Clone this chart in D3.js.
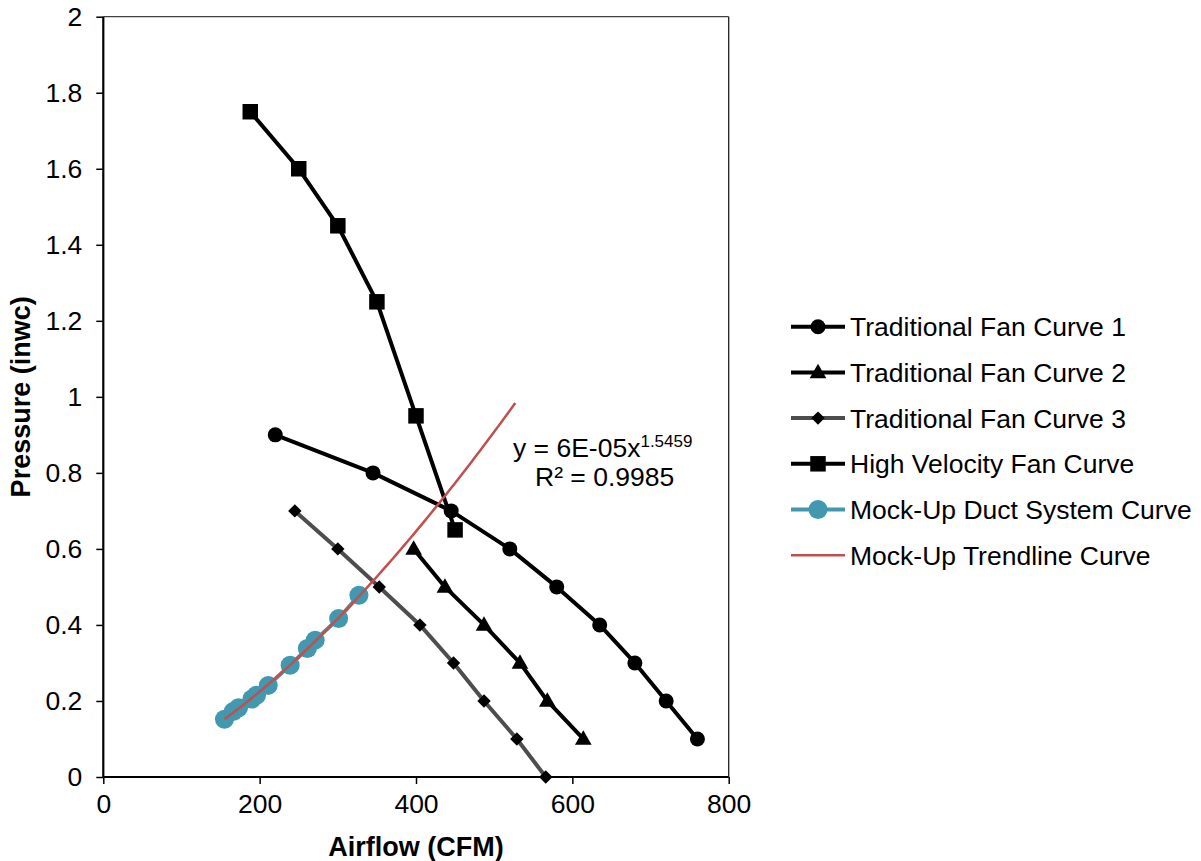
<!DOCTYPE html>
<html>
<head>
<meta charset="utf-8">
<script src="https://cdn.jsdelivr.net/npm/d3@7"></script>
<style>
  html, body { margin: 0; padding: 0; background: #fff; }
  svg { display: block; font-family: "Liberation Sans", Arial, sans-serif; }
</style>
</head>
<body>
<svg id="chart" width="1201" height="861"></svg>
<script>
// ---------- data ----------
const xTicks = [0, 200, 400, 600, 800];
const yTicks = [0, 0.2, 0.4, 0.6, 0.8, 1, 1.2, 1.4, 1.6, 1.8, 2];
const yTickLabels = ["0", "0.2", "0.4", "0.6", "0.8", "1", "1.2", "1.4", "1.6", "1.8", "2"];

const fan1 = [[220,0.9],[345,0.8],[445,0.7],[520,0.6],[580,0.5],[635,0.4],[680,0.3],[720,0.2],[760,0.1]];
const fan2 = [[397,0.6],[437,0.5],[487,0.4],[533,0.3],[568,0.2],[614,0.1]];
const fan3 = [[245,0.7],[300,0.6],[353,0.5],[405,0.4],[448,0.3],[487,0.2],[529,0.1],[566,0]];
const highVel = [[188,1.75],[250,1.6],[300,1.45],[350,1.25],[400,0.95],[450,0.65]];
const mockUp = [[155,0.152],[166,0.172],[173,0.182],[190,0.205],[196,0.215],[211,0.241],[239,0.294],[261,0.338],[271,0.36],[301,0.417],[327,0.478]];
const trendForward = 200; // trendline forecast forward (CFM)

const seriesNames = ["Traditional Fan Curve 1","Traditional Fan Curve 2","Traditional Fan Curve 3","High Velocity Fan Curve","Mock-Up Duct System Curve","Mock-Up Trendline Curve"];
const eqText = "y = 6E-05x";
const eqExp = "1.5459";
const r2Text = "R² = 0.9985";

// ---------- layout ----------
const svg = d3.select("#chart");
const L = 103.3, R = 728.7, T = 16.7, B = 777;
const x = d3.scaleLinear().domain([0, 800]).range([L, R]);
const y = d3.scaleLinear().domain([0, 2]).range([B, T]);
const FS = 26.5;

// plot border (top/right thin)
svg.append("line").attr("x1", L).attr("x2", R).attr("y1", T).attr("y2", T).attr("stroke", "#404040").attr("stroke-width", 1.3);
svg.append("line").attr("x1", R).attr("x2", R).attr("y1", T).attr("y2", B).attr("stroke", "#202020").attr("stroke-width", 1.3);

// axes
const yAxis = d3.axisLeft(y).tickValues(yTicks).tickSize(7).tickPadding(14)
  .tickFormat((d, i) => yTickLabels[i]);
const gy = svg.append("g").attr("transform", `translate(${L},0)`).call(yAxis);
const xAxis = d3.axisBottom(x).tickValues(xTicks).tickSize(7).tickPadding(10).tickFormat(d3.format("d"));
const gx = svg.append("g").attr("transform", `translate(0,${B})`).call(xAxis);
[gx, gy].forEach(g => {
  g.select(".domain").attr("stroke", "#000").attr("stroke-width", 2.2);
  g.selectAll(".tick line").attr("stroke", "#000").attr("stroke-width", 1.5);
  g.selectAll(".tick text").attr("font-size", FS).attr("fill", "#000").attr("font-family", "Liberation Sans, Arial, sans-serif");
});
gx.select(".domain").attr("d", `M${L},0H${R}`);
gy.select(".domain").attr("d", `M0,${B}V${T}`);

// axis titles
svg.append("text").attr("x", 416).attr("y", 856).attr("text-anchor", "middle")
  .attr("font-size", 27).attr("font-weight", "bold").text("Airflow (CFM)");
svg.append("text").attr("transform", `translate(30,${(T + B) / 2}) rotate(-90)`).attr("text-anchor", "middle")
  .attr("font-size", 27).attr("font-weight", "bold").text("Pressure (inwc)");

// ---------- marks ----------
const line = d3.line().x(d => x(d[0])).y(d => y(d[1]));
const plot = svg.append("g");

function drawMarker(g, type, cx, cy, color) {
  if (type === "circle") {
    g.append("circle").attr("cx", cx).attr("cy", cy).attr("r", 7.5).attr("fill", color);
  } else if (type === "triangle") {
    g.append("path").attr("d", d3.symbol().type(d3.symbolTriangle).size(120)()).attr("transform", `translate(${cx},${cy + 1})`).attr("fill", color);
  } else if (type === "diamond") {
    g.append("path").attr("d", d3.symbol().type(d3.symbolSquare).size(90)()).attr("transform", `translate(${cx},${cy}) rotate(45)`).attr("fill", color);
  } else if (type === "square") {
    g.append("path").attr("d", d3.symbol().type(d3.symbolSquare).size(240)()).attr("transform", `translate(${cx},${cy})`).attr("fill", color);
  } else if (type === "bigcircle") {
    g.append("circle").attr("cx", cx).attr("cy", cy).attr("r", 9.5).attr("fill", color);
  }
}

const series = [
  { data: fan1, stroke: "#000", marker: "circle", mfill: "#000" },
  { data: fan2, stroke: "#000", marker: "triangle", mfill: "#000" },
  { data: fan3, stroke: "#4d4d4d", marker: "diamond", mfill: "#000" },
  { data: highVel, stroke: "#000", marker: "square", mfill: "#000" },
  { data: mockUp, stroke: "#4198AF", marker: "bigcircle", mfill: "#4198AF" }
];

series.forEach(s => {
  const g = plot.append("g");
  g.append("path").datum(s.data).attr("d", line).attr("fill", "none")
    .attr("stroke", s.stroke).attr("stroke-width", 4).attr("stroke-linejoin", "round");
  s.data.forEach(d => drawMarker(g, s.marker, x(d[0]), y(d[1]), s.mfill));
});

// power trendline: least squares on ln-ln, like a spreadsheet power trendline
const lx = mockUp.map(d => Math.log(d[0])), ly = mockUp.map(d => Math.log(d[1]));
const mx = d3.mean(lx), my = d3.mean(ly);
const b = d3.sum(lx.map((v, i) => (v - mx) * (ly[i] - my))) / d3.sum(lx.map(v => (v - mx) * (v - mx)));
const a = Math.exp(my - b * mx);
const x0 = d3.min(mockUp, d => d[0]), x1 = d3.max(mockUp, d => d[0]) + trendForward;
const trend = d3.range(0, 101).map(i => { const xv = x0 + (x1 - x0) * i / 100; return [xv, a * Math.pow(xv, b)]; });
plot.append("path").datum(trend).attr("d", line).attr("fill", "none")
  .attr("stroke", "#C0504D").attr("stroke-width", 2.5);

// equation label
const eq = svg.append("text").attr("x", 513).attr("y", 457).attr("font-size", FS);
eq.append("tspan").text(eqText);
eq.append("tspan").attr("font-size", 17).attr("dy", -10).text(eqExp);
svg.append("text").attr("x", 535).attr("y", 486).attr("font-size", FS).text(r2Text);

// ---------- legend ----------
const legY0 = 326.7, legStep = 45.7;
const legendStyles = [
  { stroke: "#000", marker: "circle", mfill: "#000", w: 4 },
  { stroke: "#000", marker: "triangle", mfill: "#000", w: 4 },
  { stroke: "#4d4d4d", marker: "diamond", mfill: "#000", w: 4 },
  { stroke: "#000", marker: "square", mfill: "#000", w: 4 },
  { stroke: "#4198AF", marker: "bigcircle", mfill: "#4198AF", w: 4 },
  { stroke: "#C0504D", marker: null, mfill: null, w: 2.5 }
];
seriesNames.forEach((name, i) => {
  const ly0 = legY0 + i * legStep;
  const g = svg.append("g");
  g.append("line").attr("x1", 791).attr("x2", 845).attr("y1", ly0).attr("y2", ly0)
    .attr("stroke", legendStyles[i].stroke).attr("stroke-width", legendStyles[i].w);
  if (legendStyles[i].marker) drawMarker(g, legendStyles[i].marker, 818, ly0, legendStyles[i].mfill);
  g.append("text").attr("x", 850).attr("y", ly0 + 9.5).attr("font-size", FS).text(name);
});
</script>
</body>
</html>
